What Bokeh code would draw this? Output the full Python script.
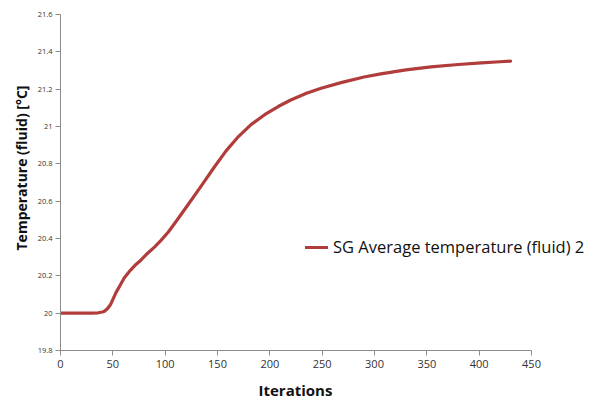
from bokeh.plotting import figure
from bokeh.models import FixedTicker, CustomJSTickFormatter, Legend, LegendItem, Range1d, Title
from bokeh.embed import file_html
from bokeh.resources import INLINE

iterations = [0, 10, 20, 30, 36, 40, 42, 45, 48, 53, 57, 61, 66, 71, 77, 83, 90, 96,
              103, 109, 115, 122, 130, 137, 147, 158, 169, 182, 195, 208, 220, 235,
              249, 268, 290, 306, 330, 354, 380, 402, 420, 430]
temperature = [20.0, 20.0, 20.0, 20.0, 20.002, 20.006, 20.01, 20.025, 20.048, 20.11,
               20.15, 20.19, 20.225, 20.255, 20.285, 20.32, 20.355, 20.39, 20.435,
               20.48, 20.527, 20.582, 20.646, 20.702, 20.783, 20.868, 20.94, 21.01,
               21.063, 21.107, 21.142, 21.178, 21.205, 21.235, 21.265, 21.282, 21.303,
               21.319, 21.332, 21.341, 21.347, 21.35]
series_name = "SG Average temperature (fluid) 2"
x_title = "Iterations"
y_title = "Temperature (fluid) [°C]"
x_ticks = [0, 50, 100, 150, 200, 250, 300, 350, 400, 450]
y_ticks = [19.8, 20.0, 20.2, 20.4, 20.6, 20.8, 21.0, 21.2, 21.4, 21.6]

FONT = "Open Sans"
AXIS_COLOR = "#8c8c8c"
LINE_COLOR = "#B03D3B"

p = figure(width=594, height=406, output_backend="svg", toolbar_location=None,
           x_range=Range1d(0, 510.2), y_range=Range1d(19.8, 21.6),
           min_border_left=60, min_border_right=0, min_border_top=14, min_border_bottom=54)
p.outline_line_color = None
p.xgrid.grid_line_color = None
p.ygrid.grid_line_color = None

r = p.line(iterations, temperature, line_color=LINE_COLOR, line_width=3.2,
           line_join="round", line_cap="round")

p.xaxis.ticker = FixedTicker(ticks=x_ticks)
p.xaxis.bounds = (0, 450)
p.yaxis.ticker = FixedTicker(ticks=y_ticks)
p.yaxis.formatter = CustomJSTickFormatter(code="return (Math.round(tick*10)/10).toString();")
p.xaxis.minor_tick_line_color = None
p.yaxis.minor_tick_line_color = None
for ax in (p.xaxis, p.yaxis):
    ax.axis_line_color = AXIS_COLOR
    ax.major_tick_line_color = AXIS_COLOR
    ax.major_tick_in = 0
    ax.major_tick_out = 5
    ax.major_label_text_font = FONT
    ax.major_label_text_color = "#333333"

p.xaxis.major_label_text_font_size = "11px"
p.yaxis.major_label_text_font_size = "7.5px"
p.xaxis.major_label_standoff = 4
p.yaxis.major_label_standoff = 3

# axis titles as side-panel titles, positioned over the visible 0-450 axis span
p.add_layout(Title(text=x_title, align="left", offset=198, standoff=14,
                   text_font=FONT, text_font_style="bold", text_font_size="15px",
                   text_color="#111111"), "below")
p.add_layout(Title(text=y_title, align="left", offset=100, standoff=7,
                   text_font=FONT, text_font_style="bold", text_font_size="14px",
                   text_color="#111111"), "left")

legend = Legend(items=[LegendItem(label=series_name, renderers=[r])],
                location=(245, 92), padding=0, margin=0, border_line_color=None,
                background_fill_alpha=0, label_text_font=FONT, label_text_font_size="16.5px",
                label_text_color="#111111", glyph_width=23, glyph_height=20,
                label_standoff=5)
p.add_layout(legend, "center")

open("out.html", "w").write(file_html(p, INLINE))
